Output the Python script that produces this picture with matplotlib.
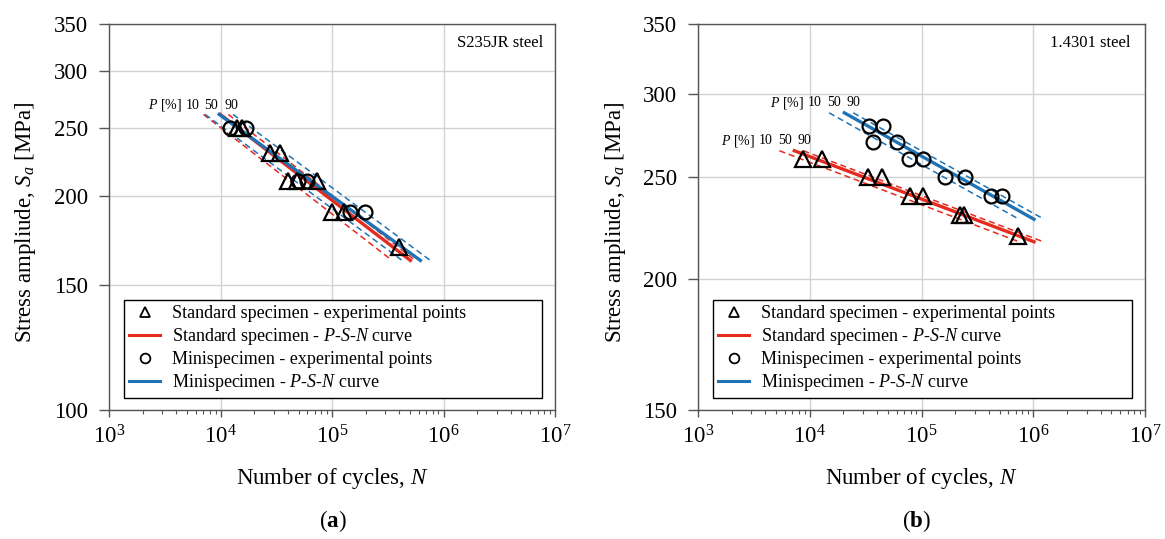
import matplotlib
matplotlib.use("Agg")
import matplotlib.pyplot as plt
from matplotlib.lines import Line2D
from matplotlib.ticker import FixedLocator, FixedFormatter, LogLocator, NullFormatter

plt.rcParams['font.family'] = ['Liberation Serif', 'DejaVu Serif']
plt.rcParams['mathtext.fontset'] = 'custom'
plt.rcParams['mathtext.rm'] = 'Liberation Serif'
plt.rcParams['mathtext.it'] = 'Liberation Serif:italic'
plt.rcParams['mathtext.bf'] = 'Liberation Serif:bold'

RED = '#e52a1e'
BLUE = '#1f73b4'

# ---- (a) S235JR steel ----
a_std_N = [14100, 15600, 27800, 33700, 40100, 48300, 73000, 99500, 127000, 396000]
a_std_S = [250, 250, 230, 230, 210, 210, 210, 190, 190, 170]
a_mini_N = [12200, 16900, 49000, 59000, 146000, 198000]
a_mini_S = [250, 250, 210, 210, 190, 190]
a_curve_S = [261, 162.5]
a_std_p10 = [7000, 345000]
a_std_p50 = [9900, 503000]
a_std_p90 = [11700, 558000]
a_mini_p10 = [7250, 424000]
a_mini_p50 = [9690, 619000]
a_mini_p90 = [12900, 760000]

# ---- (b) 1.4301 steel ----
b_std_N = [8750, 12900, 33400, 44600, 78900, 104000, 221000, 240000, 734000]
b_std_S = [260, 260, 250, 250, 240, 240, 230, 230, 220]
b_mini_N = [34100, 45000, 37100, 60000, 77300, 103000, 162000, 245000, 416000, 528000]
b_mini_S = [280, 280, 270, 270, 260, 260, 250, 250, 240, 240]
b_std_curve_S = [265, 217]
b_mini_curve_S = [288, 228]
b_std_p10 = [5350, 746000]
b_std_p50 = [7280, 1016000]
b_std_p90 = [8750, 1230000]
b_mini_p10 = [14900, 746000]
b_mini_p50 = [20400, 1016000]
b_mini_p90 = [24500, 1250000]

x_ticks = [1e3, 1e4, 1e5, 1e6, 1e7]
a_y_ticks = [100, 150, 200, 250, 300, 350]
b_y_ticks = [150, 200, 250, 300, 350]


def draw_panel(ax, yticks, std_N, std_S, mini_N, mini_S,
               std_S_curve, std_curves, mini_S_curve, mini_curves):
    ax.set_xscale('log')
    ax.set_yscale('log')
    ax.set_xlim(1e3, 1e7)
    ax.set_ylim(yticks[0], yticks[-1])
    ax.yaxis.set_major_locator(FixedLocator(yticks))
    ax.yaxis.set_major_formatter(FixedFormatter([str(t) for t in yticks]))
    ax.yaxis.set_minor_locator(FixedLocator([]))
    ax.xaxis.set_major_locator(FixedLocator(x_ticks))
    ax.xaxis.set_minor_locator(LogLocator(base=10, subs=range(2, 10)))
    ax.xaxis.set_minor_formatter(NullFormatter())
    ax.grid(True, which='major', color='#d2d2d2', lw=1.0)
    ax.set_axisbelow(True)
    for sp in ax.spines.values():
        sp.set_color('#555555')
        sp.set_linewidth(1.0)
    ax.tick_params(axis='y', which='major', direction='out', length=7, width=1,
                   color='#555555', labelsize=16.5, pad=8)
    ax.tick_params(axis='x', which='major', direction='out', length=5, width=1,
                   color='#555555', labelsize=16.5, pad=6)
    ax.tick_params(axis='x', which='minor', direction='out', length=3, width=0.8,
                   color='#555555')

    # P-S-N curves: 10 % and 90 % dashed, 50 % solid
    ax.plot(std_curves[0], std_S_curve, color=RED, lw=1.1, dashes=(4, 2.5))
    ax.plot(std_curves[2], std_S_curve, color=RED, lw=1.1, dashes=(4, 2.5))
    ax.plot(mini_curves[0], mini_S_curve, color=BLUE, lw=1.1, dashes=(4, 2.5))
    ax.plot(mini_curves[2], mini_S_curve, color=BLUE, lw=1.1, dashes=(4, 2.5))
    ax.plot(std_curves[1], std_S_curve, color=RED, lw=2.4)
    ax.plot(mini_curves[1], mini_S_curve, color=BLUE, lw=2.4)

    ax.plot(std_N, std_S, ls='none', marker='^', ms=11, mfc='none', mec='black', mew=1.6)
    ax.plot(mini_N, mini_S, ls='none', marker='o', ms=10, mfc='none', mec='black', mew=1.6)

    handles = [
        Line2D([], [], ls='none', marker='^', ms=7, mfc='none', mec='black', mew=1.3),
        Line2D([], [], color=RED, lw=2.2),
        Line2D([], [], ls='none', marker='o', ms=7, mfc='none', mec='black', mew=1.3),
        Line2D([], [], color=BLUE, lw=2.2),
    ]
    labels = ['Standard specimen - experimental points',
              'Standard specimen - $P$-$S$-$N$ curve',
              'Minispecimen - experimental points',
              'Minispecimen - $P$-$S$-$N$ curve']
    leg = ax.legend(handles, labels, loc='lower left', mode='expand',
                    bbox_to_anchor=(0.033, 0.030, 0.938, 0.26),
                    fontsize=13, frameon=True, fancybox=False, framealpha=1,
                    edgecolor='black', borderpad=0.3, labelspacing=0.22,
                    handlelength=1.7, handletextpad=0.65, borderaxespad=0)
    leg.get_frame().set_linewidth(1.0)

    ax.set_xlabel('Number of cycles, $N$', fontsize=16.5)
    ax.set_ylabel('Stress ampliude, $S_a$ [MPa]', fontsize=16.5)
    ax.xaxis.label.set_va('center')
    ax.yaxis.label.set_va('center')
    ax.xaxis.set_label_coords(0.5, -0.177)


def p_label(ax, x_end, y0, xs):
    ax.text(x_end, y0, '$P$ [%]', transform=ax.transAxes, fontsize=10,
            ha='right', va='center')
    for x, t in zip(xs, ['10', '50', '90']):
        ax.text(x, y0, t, transform=ax.transAxes, fontsize=10,
                ha='center', va='center')


fig = plt.figure(figsize=(11.65, 5.39), dpi=100)
W, H = 1165, 539
ax1 = fig.add_axes([109.3 / W, 1 - 410 / H, 445.7 / W, 386 / H])
ax2 = fig.add_axes([698 / W, 1 - 410 / H, 447 / W, 386 / H])

draw_panel(ax1, a_y_ticks, a_std_N, a_std_S, a_mini_N, a_mini_S,
           a_curve_S, [a_std_p10, a_std_p50, a_std_p90],
           a_curve_S, [a_mini_p10, a_mini_p50, a_mini_p90])
draw_panel(ax2, b_y_ticks, b_std_N, b_std_S, b_mini_N, b_mini_S,
           b_std_curve_S, [b_std_p10, b_std_p50, b_std_p90],
           b_mini_curve_S, [b_mini_p10, b_mini_p50, b_mini_p90])

ax1.yaxis.set_label_coords(-0.188, 0.486)
ax2.yaxis.set_label_coords(-0.185, 0.486)

ax1.text(0.973, 0.9516, 'S235JR steel', transform=ax1.transAxes, fontsize=12,
         ha='right', va='center')
ax2.text(0.968, 0.9516, '1.4301 steel', transform=ax2.transAxes, fontsize=12,
         ha='right', va='center')

p_label(ax1, 0.163, 0.790, [0.1867, 0.2277, 0.2735])
p_label(ax2, 0.237, 0.796, [0.2606, 0.3049, 0.3474])
p_label(ax2, 0.128, 0.6977, [0.1515, 0.1946, 0.2387])

fig.text(333 / W, 1 - 521 / H, '($\\mathbf{a}$)', fontsize=16.5, ha='center', va='center')
fig.text(916 / W, 1 - 521 / H, '($\\mathbf{b}$)', fontsize=16.5, ha='center', va='center')

fig.savefig('out.png', dpi=100)
